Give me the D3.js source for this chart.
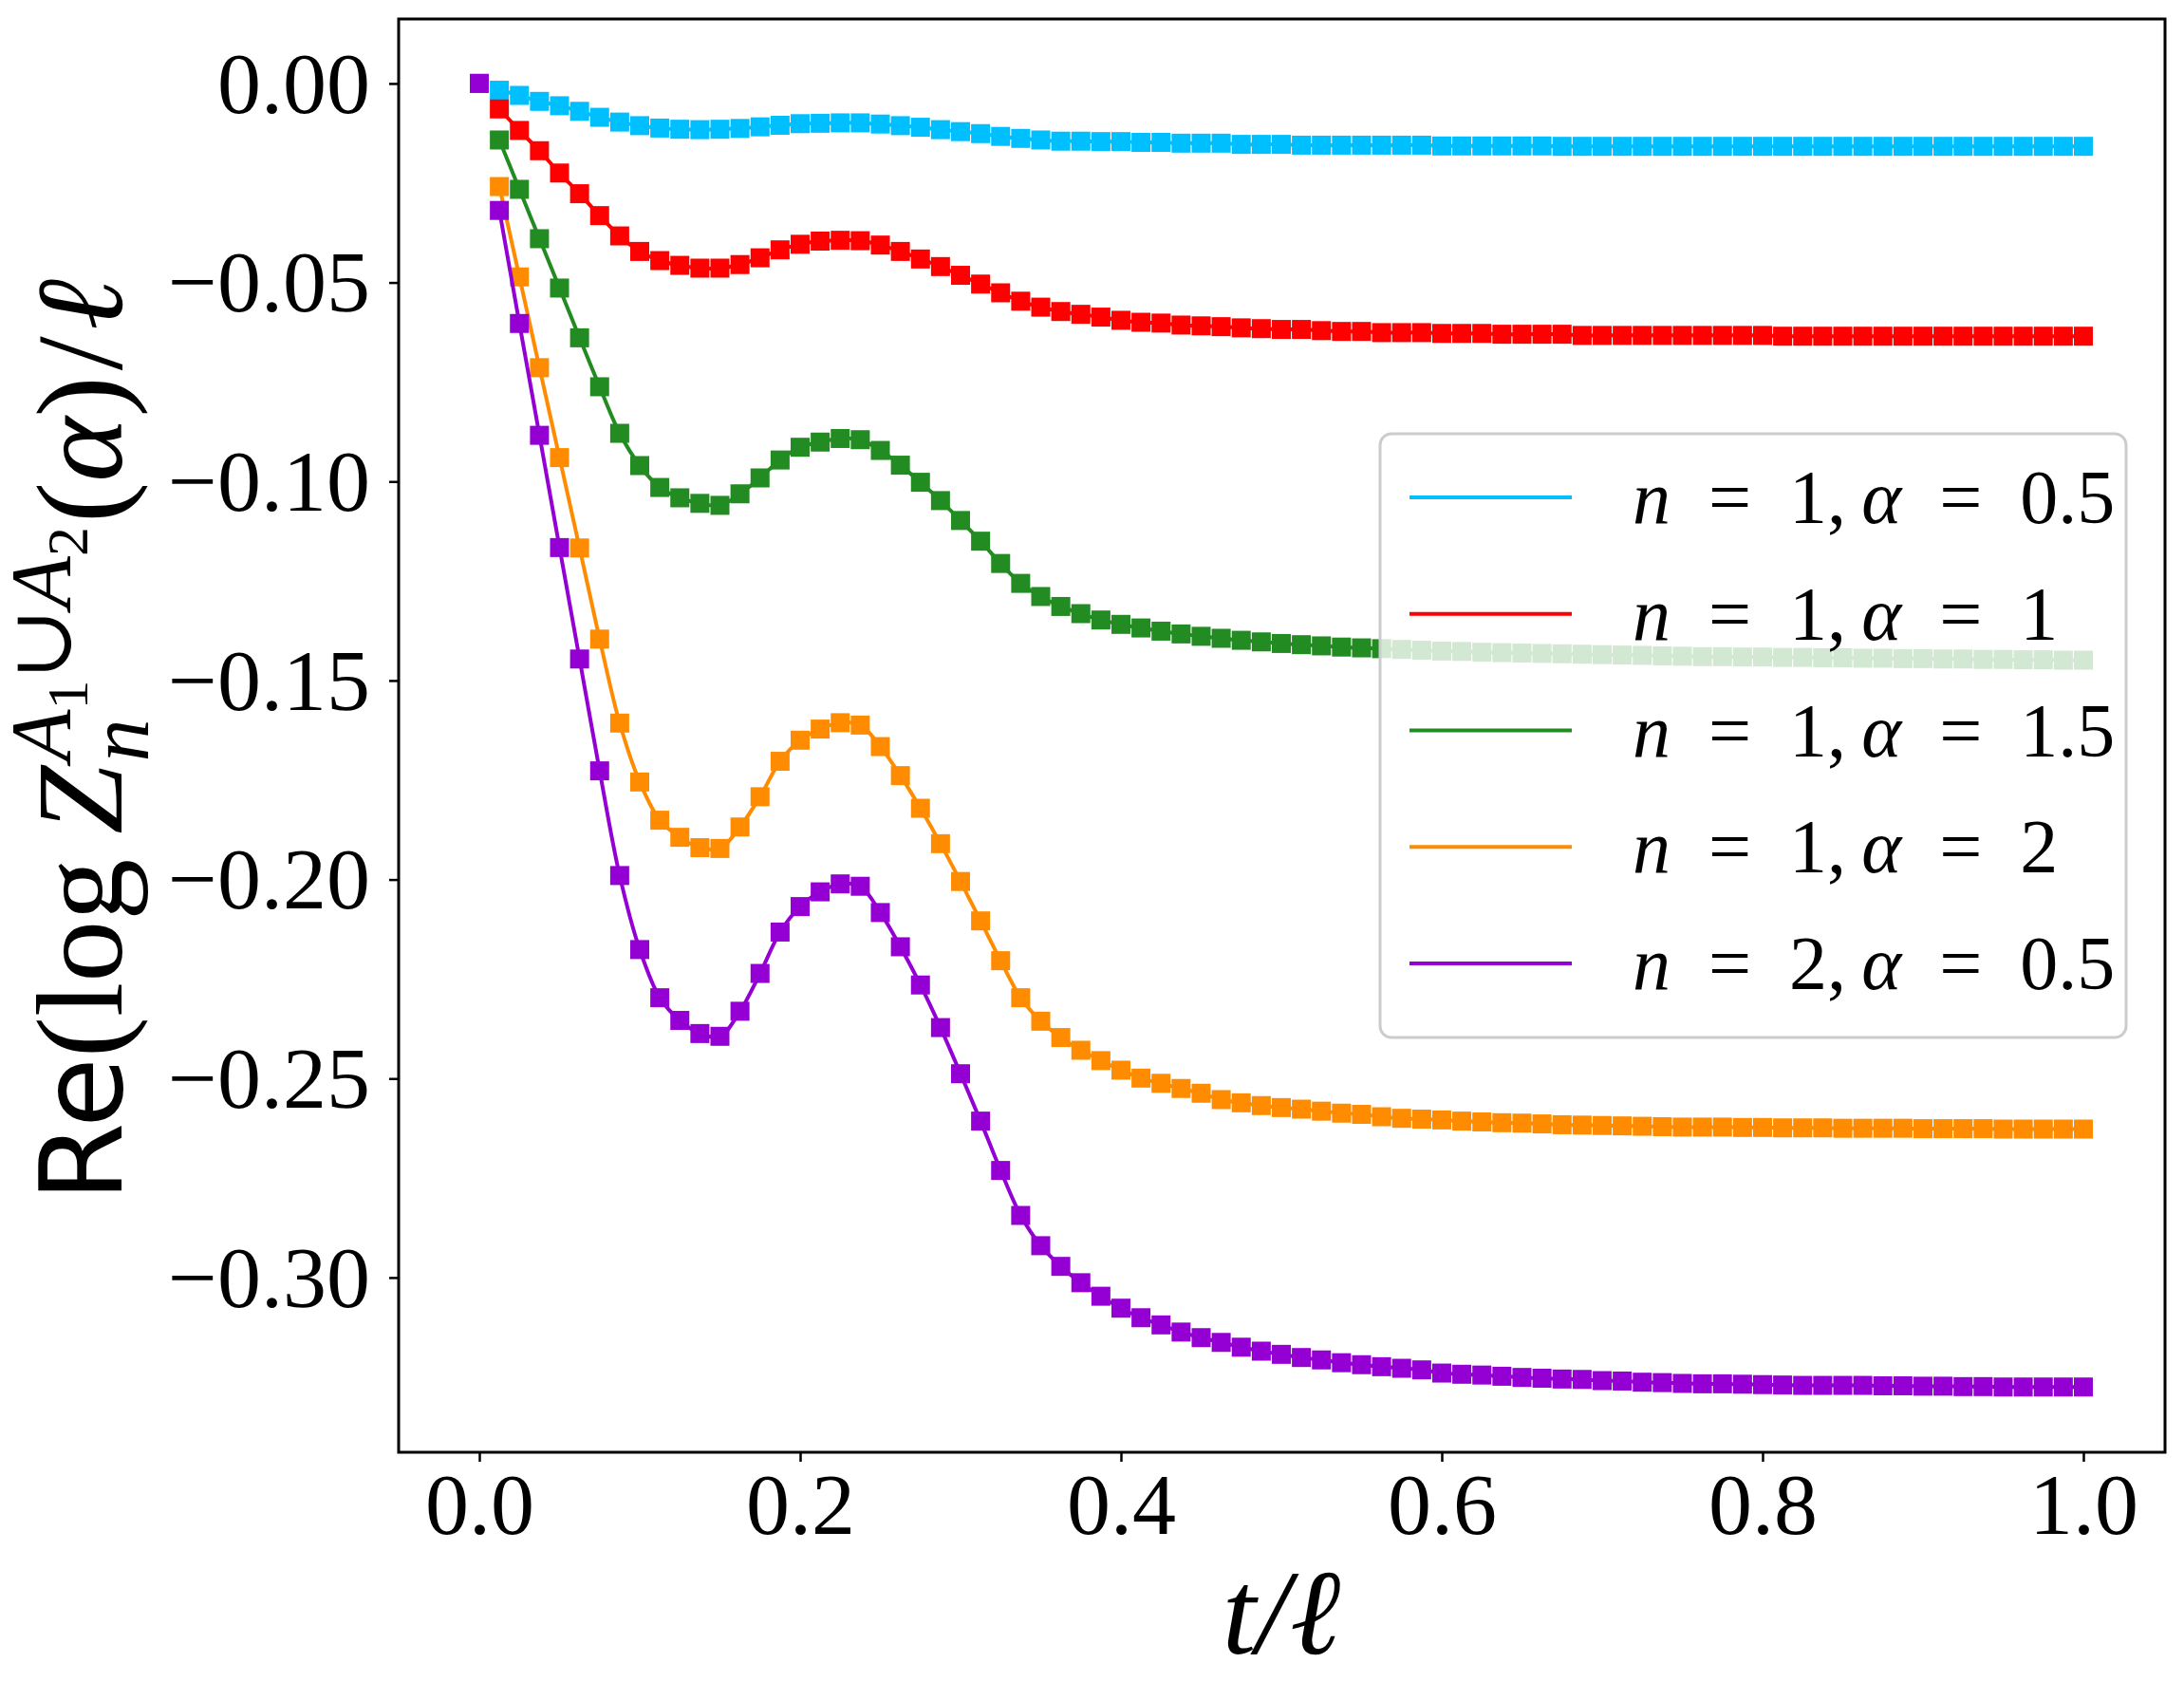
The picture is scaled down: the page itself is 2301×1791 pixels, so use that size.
<!DOCTYPE html>
<html><head><meta charset="utf-8">
<script src="https://cdn.jsdelivr.net/npm/d3@7/dist/d3.min.js"></script>
<style>body{margin:0;background:#fff}</style></head>
<body><svg id="c" width="2301" height="1791"></svg>
<script>
const tValues = d3.range(81).map(k => k / 80);
const seriesNames = ["n=1, α=0.5", "n=1, α=1", "n=1, α=1.5", "n=1, α=2", "n=2, α=0.5"];
const seriesColors = ["#00bfff", "#ff0000", "#228b22", "#ff8c00", "#9400d3"];
const legendParams = [["1", "0.5"], ["1", "1"], ["1", "1.5"], ["1", "2"], ["2", "0.5"]];
const cyan = [0,-0.0017,-0.0030,-0.0045,-0.0056,-0.0070,-0.0085,-0.0097,-0.0106,-0.0112,-0.0115,-0.0116,-0.0115,-0.0113,-0.0109,-0.0105,-0.0101,-0.0100,-0.0099,-0.0099,-0.0102,-0.0106,-0.0110,-0.0116,-0.0121,-0.0126,-0.0133,-0.0138,-0.0142,-0.0145,-0.0145,-0.0146,
-0.0146,-0.0148,-0.0148,-0.0150,-0.0150,-0.0150,-0.0153,-0.0153,-0.0153,
-0.0155,-0.0155,-0.0155,-0.0155,-0.0155,-0.0155,-0.0155,
-0.0157,-0.0157,-0.0157,-0.0157,-0.0157,-0.0157,
-0.0158,-0.0158,-0.0158,-0.0158,-0.0158,-0.0158,-0.0158,-0.0158,-0.0158,-0.0158,-0.0158,-0.0158,-0.0158,-0.0158,-0.0158,-0.0158,-0.0158,-0.0158,-0.0158,-0.0158,-0.0158,-0.0158,-0.0158,-0.0158,-0.0158,-0.0158,-0.0158];
const red = [0,-0.0064,-0.0118,-0.0169,-0.0225,-0.0277,-0.0332,-0.0383,-0.0422,-0.0445,-0.0457,-0.0464,-0.0464,-0.0455,-0.0438,-0.0418,-0.0404,-0.0396,-0.0394,-0.0395,-0.0406,-0.0422,-0.0441,-0.0460,-0.0482,-0.0504,-0.0526,-0.0547,-0.0562,-0.0573,-0.0580,-0.0587,
-0.0595,-0.0600,-0.0602,-0.0607,-0.0609,-0.0611,-0.0614,-0.0616,-0.0618,-0.0618,-0.0621,-0.0623,-0.0623,-0.0626,-0.0626,-0.0626,-0.0628,-0.0628,-0.0628,-0.0630,-0.0630,-0.0630,-0.0630,
-0.0633,-0.0633,-0.0633,-0.0633,-0.0633,-0.0633,-0.0633,-0.0633,-0.0633,-0.0633,
-0.0635,-0.0635,-0.0635,-0.0635,-0.0635,-0.0635,-0.0635,-0.0635,-0.0635,-0.0635,-0.0635,-0.0635,-0.0635,-0.0635,-0.0635,-0.0635];
const green = [0,-0.0142,-0.0266,-0.0390,-0.0514,-0.0639,-0.0762,-0.0879,-0.0960,-0.1015,-0.1041,-0.1055,-0.1060,-0.1031,-0.0991,-0.0946,-0.0914,-0.0901,-0.0892,-0.0895,-0.0922,-0.0959,-0.1002,-0.1048,-0.1098,-0.1150,-0.1206,-0.1256,-0.1289,-0.1314,-0.1332,-0.1348,
-0.1359,-0.1368,-0.1376,-0.1383,-0.1389,-0.1394,-0.1399,-0.1403,-0.1407,-0.1410,-0.1413,-0.1416,-0.1418,-0.1420,-0.1422,-0.1424,-0.1426,-0.1427,-0.1429,
-0.1430,-0.1431,-0.1432,-0.1433,-0.1434,-0.1435,-0.1436,-0.1437,-0.1438,-0.1439,-0.1440,
-0.1440,-0.1441,-0.1441,-0.1442,-0.1442,-0.1443,-0.1443,-0.1444,-0.1444,-0.1445,
-0.1445,-0.1446,-0.1446,-0.1447,-0.1447,-0.1448,-0.1448,-0.1449,-0.1449];
const orange = [0,-0.0259,-0.0486,-0.0714,-0.0940,-0.1167,-0.1396,-0.1607,-0.1755,-0.1851,-0.1894,-0.1920,-0.1922,-0.1868,-0.1792,-0.1703,-0.1650,-0.1622,-0.1606,-0.1612,-0.1666,-0.1739,-0.1821,-0.1910,-0.2005,-0.2104,-0.2204,-0.2297,-0.2356,-0.2397,-0.2429,-0.2455,
-0.2479,-0.2499,-0.2512,-0.2525,-0.2537,-0.2553,-0.2561,-0.2568,-0.2573,-0.2577,
-0.2582,-0.2587,-0.2590,-0.2596,-0.2600,-0.2602,-0.2604,-0.2607,-0.2609,-0.2611,
-0.2612,-0.2614,-0.2616,-0.2617,-0.2618,-0.2619,-0.2620,-0.2621,-0.2622,-0.2622,
-0.2622,-0.2623,-0.2623,-0.2624,-0.2624,-0.2624,-0.2625,-0.2625,-0.2625,-0.2625,
-0.2626,-0.2626,-0.2626,-0.2626,-0.2627,-0.2627,-0.2627,-0.2627,-0.2627];
const purple = [0,-0.0319,-0.0603,-0.0884,-0.1166,-0.1446,-0.1727,-0.1990,-0.2176,-0.2297,-0.2354,-0.2387,-0.2394,-0.2331,-0.2236,-0.2132,-0.2068,-0.2031,-0.2011,-0.2017,-0.2083,-0.2169,-0.2265,-0.2372,-0.2488,-0.2607,-0.2731,-0.2844,-0.2920,-0.2972,-0.3013,-0.3047,
-0.3077,-0.3101,-0.3119,-0.3137,-0.3151,-0.3163,-0.3175,-0.3185,-0.3193,-0.3201,
-0.3207,-0.3214,-0.3219,-0.3224,-0.3228,-0.3232,-0.3240,-0.3243,-0.3245,-0.3248,
-0.3251,-0.3253,-0.3255,-0.3256,-0.3259,-0.3260,-0.3263,-0.3264,-0.3266,-0.3267,
-0.3267,-0.3268,-0.3269,-0.3270,-0.3271,-0.3271,-0.3271,-0.3271,-0.3272,-0.3272,
-0.3273,-0.3273,-0.3274,-0.3274,-0.3275,-0.3275,-0.3275,-0.3275,-0.3275];
const seriesValues = [cyan, red, green, orange, purple];
const xTicks = [0, 0.2, 0.4, 0.6, 0.8, 1.0];
const yTicks = [0, -0.05, -0.10, -0.15, -0.20, -0.25, -0.30];

const L = 420, R = 2281, T = 20, B = 1530;
const svg = d3.select("#c");
const x = d3.scaleLinear().domain([-0.0503, 1.0509]).range([L, R]);
const y = d3.scaleLinear().domain([-0.3439, 0.0162]).range([B, T]);
const serif = "'Liberation Serif','DejaVu Serif',serif";

const line = d3.line().x(d => x(d[0])).y(d => y(d[1])).curve(d3.curveCatmullRom);
seriesValues.forEach((vals, i) => {
  const pts = tValues.map((t, k) => [t, vals[k]]);
  const g = svg.append("g");
  g.append("path").attr("d", line(pts.slice(1))).attr("fill", "none")
    .attr("stroke", seriesColors[i]).attr("stroke-width", 4);
  g.selectAll("rect").data(pts).join("rect")
    .attr("x", d => x(d[0]) - 10).attr("y", d => y(d[1]) - 10)
    .attr("width", 20).attr("height", 20).attr("fill", seriesColors[i]);
});

const xa = svg.append("g").attr("transform", `translate(0,${B})`)
  .call(d3.axisBottom(x).tickValues(xTicks).tickSize(10).tickSizeOuter(0).tickFormat(d3.format(".1f")));
const ya = svg.append("g").attr("transform", `translate(${L},0)`)
  .call(d3.axisLeft(y).tickValues(yTicks).tickSize(10).tickSizeOuter(0).tickFormat(d => d3.format(".2f")(d).replace("-", "−")));
[xa, ya].forEach(a => {
  a.select(".domain").remove();
  a.selectAll("line").attr("stroke", "#000").attr("stroke-width", 2.5);
  a.selectAll("text").attr("font-family", serif).attr("font-size", 92).attr("fill", "#000");
});
xa.selectAll("text").attr("dy", 0).attr("y", 86);
ya.selectAll("text").attr("dy", "0.33em").attr("x", -30);
svg.append("rect").attr("x", L).attr("y", T).attr("width", R - L).attr("height", B - T)
  .attr("fill", "none").attr("stroke", "#000").attr("stroke-width", 3);

svg.append("rect").attr("x", 1454).attr("y", 457).attr("width", 786).attr("height", 636).attr("rx", 12)
  .attr("fill", "#fff").attr("fill-opacity", 0.8).attr("stroke", "#cccccc").attr("stroke-width", 3);
seriesNames.forEach((nm, i) => {
  const yy = 524 + i * 122.75;
  svg.append("line").attr("x1", 1485).attr("x2", 1656).attr("y1", yy).attr("y2", yy)
    .attr("stroke", seriesColors[i]).attr("stroke-width", 4);
  const t = svg.append("text").attr("x", 1720).attr("y", yy + 27).attr("font-family", serif).attr("font-size", 80).attr("fill", "#000");
  t.append("tspan").attr("font-style", "italic").text("n");
  t.append("tspan").text("\u2002=\u2002" + legendParams[i][0] + ",\u2009");
  t.append("tspan").attr("font-style", "italic").text("α");
  t.append("tspan").text("\u2002=\u2002" + legendParams[i][1]);
});

svg.append("text").attr("x", 1350).attr("y", 1742).attr("text-anchor", "middle")
  .attr("font-family", serif).attr("font-size", 128).attr("font-style", "italic").text("t/ℓ");

const yg = svg.append("g").attr("transform", "translate(128,780) rotate(-90)");
const inner = yg.append("g");
let cx = 0;
function piece(txt, opts) {
  const el = inner.append("text").attr("x", cx).attr("y", opts.dy || 0)
    .attr("font-family", opts.sans ? "'DejaVu Sans',sans-serif" : serif)
    .attr("font-size", opts.size || 130).attr("font-style", opts.it ? "italic" : "normal").text(txt);
  const w = el.node().getComputedTextLength();
  if (!opts.stay) cx += w + (opts.gap || 0);
  return w;
}
piece("Re", {sans: true, size: 120});
piece("(log", {});
cx += 26;
piece("Z", {it: true, gap: 4});
const sx = cx;
const wn = piece("n", {it: true, size: 90, dy: 28, stay: true});
piece("A", {it: true, size: 90, dy: -54});
piece("1", {size: 62, dy: -36});
piece("∪", {size: 90, dy: -54});
piece("A", {it: true, size: 90, dy: -54});
piece("2", {size: 62, dy: -36});
cx = Math.max(cx, sx + wn) + 4;
piece("(", {});
piece("α", {it: true});
piece(")", {gap: 6});
piece("/", {gap: 6});
piece("ℓ", {it: true});
inner.attr("transform", `translate(${-cx / 2},0)`);
</script></body></html>
